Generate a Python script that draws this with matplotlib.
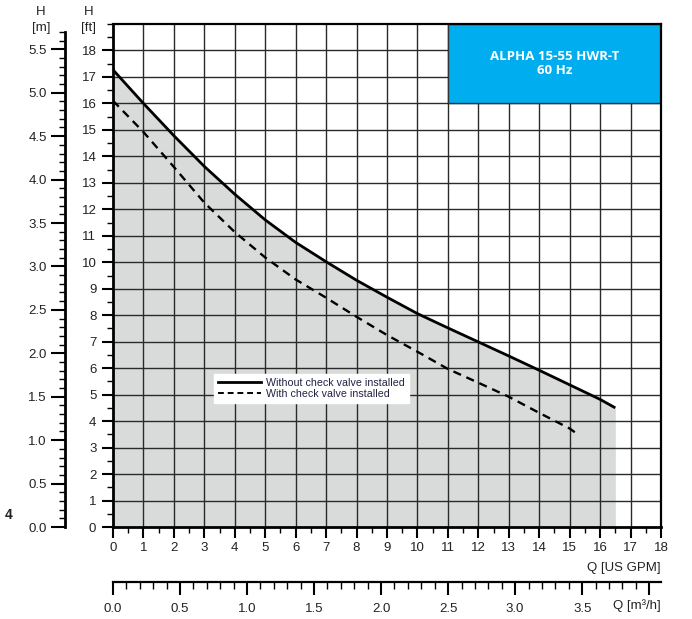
import numpy as np
import matplotlib
matplotlib.use("Agg")
from matplotlib import pyplot as plt
from matplotlib.lines import Line2D
from matplotlib.patches import Rectangle

plt.rcParams['font.family'] = ['Liberation Sans', 'DejaVu Sans']

# pump curve readings (Q in US GPM, H in ft)
q_without = [0, 1, 2, 3, 4, 5, 6, 7, 8, 9, 10, 11, 12, 13, 14, 15, 16, 16.5]
h_without = [17.27, 16.0, 14.78, 13.62, 12.57, 11.6, 10.75, 10.02, 9.32, 8.68, 8.06, 7.52,
             6.99, 6.46, 5.92, 5.37, 4.82, 4.5]
q_with = [0, 1, 2, 3, 4, 5, 6, 7, 8, 9, 10, 11, 12, 13, 14, 15, 15.3]
h_with = [16.1, 14.92, 13.6, 12.25, 11.14, 10.18, 9.35, 8.66, 7.94, 7.25, 6.62, 5.97,
          5.45, 4.92, 4.31, 3.72, 3.47]

labels = ["Without check valve installed", "With check valve installed"]
title_lines = ["ALPHA 15-55 HWR-T", "60 Hz"]

FT_PER_M = 3.2808
GPM_PER_M3H = 4.4029
txt_color = '#222222'

fig = plt.figure(figsize=(6.92, 6.19), dpi=100)
pos = [113 / 692, 1 - 527 / 619, 548 / 692, 503 / 619]
ax = fig.add_axes(pos)

ax.set_xlim(0, 18)
ax.set_ylim(0, 19)

# shaded operating area
ax.fill_between(q_without, h_without, 0, color='#d9dbdb', lw=0, zorder=1)

# grid
for q in range(1, 18):
    ax.axvline(q, color='#2a2a2a', lw=1.0, zorder=2)
for h in range(1, 19):
    ax.axhline(h, color='#2a2a2a', lw=1.0, zorder=2)

ax.plot(q_without, h_without, color='black', lw=2.0, zorder=4, solid_capstyle='butt')
ax.plot(q_with, h_with, color='black', lw=1.7, ls=(0, (3.5, 2.5)), zorder=4)

# title box
ax.add_patch(Rectangle((11, 16), 7, 3, facecolor='#00aeef', edgecolor='#333333',
                       lw=1.0, zorder=5))
ax.text(14.5, 17.5, "\n".join(title_lines), ha='center', va='center', color='white',
        fontsize=9.5, fontweight='bold', family='Open Sans', linespacing=1.1, zorder=6)

for s in ['left', 'bottom']:
    ax.spines[s].set_linewidth(2.0)
for s in ['top', 'right']:
    ax.spines[s].set_linewidth(1.6)
for s in ax.spines.values():
    s.set_zorder(7)

ax.set_xticks(np.arange(0, 19, 1))
ax.set_xticks(np.arange(0, 18.01, 0.5), minor=True)
ax.set_yticks(np.arange(0, 19, 1))
ax.set_yticks(np.arange(0, 19.01, 0.5), minor=True)
ax.tick_params(which='major', direction='out', length=8, width=1.5, labelsize=9.5,
               labelcolor=txt_color, pad=3)
ax.tick_params(which='minor', direction='out', length=4, width=1.0)
ax.tick_params(axis='y', pad=4)

# legend
handles = [Line2D([], [], color='black', lw=2.0),
           Line2D([], [], color='black', lw=1.4, ls=(0, (3, 2)))]
leg = ax.legend(handles, labels, loc='upper left', bbox_to_anchor=(0.184, 0.305),
                fontsize=7.7, frameon=True, fancybox=False, edgecolor='white',
                framealpha=1, handlelength=4.0, handletextpad=0.5, borderpad=0.4,
                labelspacing=0.1, borderaxespad=0)
for t in leg.get_texts():
    t.set_color('#222244')
leg.set_zorder(8)


def bare_axes():
    a = fig.add_axes(pos)
    a.patch.set_visible(False)
    for s in a.spines.values():
        s.set_visible(False)
    return a


# metre axis
axm = bare_axes()
axm.set_ylim(0, 19 / FT_PER_M)
axm.set_xticks([])
axm.spines['left'].set_visible(True)
axm.spines['left'].set_position(('axes', -48 / 548))
axm.spines['left'].set_bounds(0, 5.7)
axm.spines['left'].set_linewidth(2.0)
axm.set_yticks(np.arange(0, 5.51, 0.5))
axm.set_yticks(np.arange(0, 5.71, 0.1), minor=True)
axm.set_yticklabels([f"{v:.1f}" for v in np.arange(0, 5.51, 0.5)])
axm.tick_params(which='major', direction='out', length=10, width=1.5, labelsize=9.5,
                labelcolor=txt_color, pad=3)
axm.tick_params(which='minor', direction='out', length=4.5, width=1.0)

# m3/h axis
axq = bare_axes()
axq.set_xlim(0, 18 / GPM_PER_M3H)
axq.set_yticks([])
axq.spines['bottom'].set_visible(True)
axq.spines['bottom'].set_position(('axes', -55 / 503))
axq.spines['bottom'].set_linewidth(1.6)
axq.set_xticks(np.arange(0, 4.01, 0.5))
axq.set_xticks(np.arange(0, 4.05, 0.1), minor=True)
axq.set_xticklabels([f"{v:.1f}" for v in np.arange(0, 3.51, 0.5)] + [""])
axq.tick_params(which='major', direction='out', length=9, width=1.5, labelsize=9.5,
                labelcolor=txt_color, pad=6)
axq.tick_params(which='minor', direction='out', length=5, width=1.0)

# axis captions
fig.text(41 / 692, 1 - 12 / 619, "H", ha='center', va='center', fontsize=9.5, color=txt_color)
fig.text(41 / 692, 1 - 28 / 619, "[m]", ha='center', va='center', fontsize=9.5, color=txt_color)
fig.text(89 / 692, 1 - 12 / 619, "H", ha='center', va='center', fontsize=9.5, color=txt_color)
fig.text(89 / 692, 1 - 28 / 619, "[ft]", ha='center', va='center', fontsize=9.5, color=txt_color)
fig.text(661 / 692, 1 - 568 / 619, "Q [US GPM]", ha='right', va='center', fontsize=9.5,
         color=txt_color)
fig.text(661 / 692, 1 - 606 / 619, "Q [m\u00b3/h]", ha='right', va='center', fontsize=9.5,
         color=txt_color)
fig.text(5 / 692, 1 - 515 / 619, "4", ha='left', va='center', fontsize=10,
         fontweight='bold', color='#222222')

fig.savefig("out.png", dpi=100)
